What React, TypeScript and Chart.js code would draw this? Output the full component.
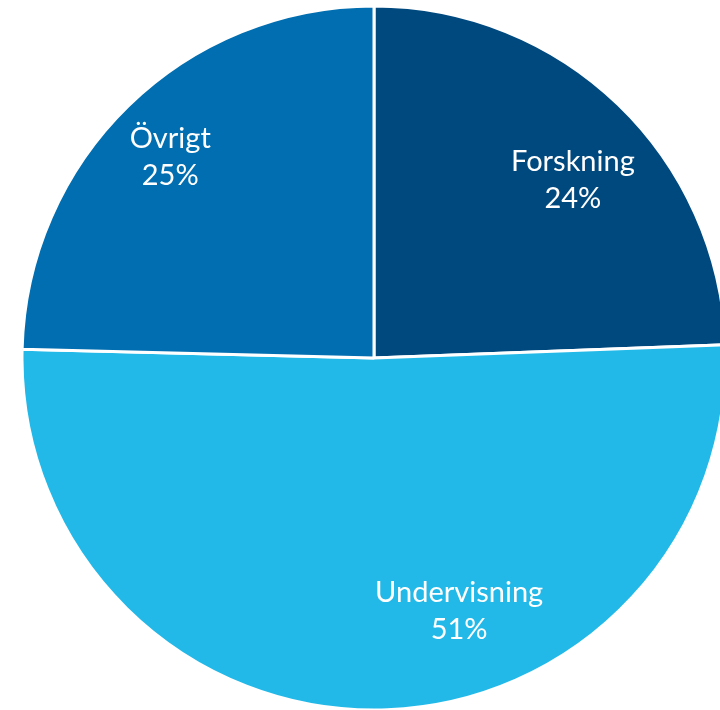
import React, { useEffect, useRef } from "react";
import { Chart, registerables } from "chart.js";

Chart.register(...registerables);

const categories = ["Forskning", "Undervisning", "Övrigt"];
const values = [24.4, 51.0, 24.6];
const percentLabels = ["24%", "51%", "25%"];
const colors = ["#00497f", "#22b9e9", "#006eb0"];

// label placement: angle (deg clockwise from top) and fraction of radius
const labelAngles = [48.2, 161.4, 314.6];
const labelDist = [0.758, 0.758, 0.813];

const labelPlugin = {
  id: "pieLabels",
  afterDatasetsDraw(chart: any) {
    const ctx = chart.ctx;
    const meta = chart.getDatasetMeta(0);
    ctx.save();
    ctx.fillStyle = "#ffffff";
    ctx.font = "29px Lato, 'Open Sans', sans-serif";
    ctx.textAlign = "center";
    ctx.textBaseline = "middle";
    meta.data.forEach((arc: any, i: number) => {
      const a = (labelAngles[i] * Math.PI) / 180;
      const r = arc.outerRadius * labelDist[i];
      const x = arc.x + Math.sin(a) * r;
      const y = arc.y - Math.cos(a) * r;
      ctx.fillText(categories[i], x, y - 18.5);
      ctx.fillText(percentLabels[i], x, y + 18.5);
    });
    ctx.restore();
  },
};

export default function App() {
  const ref = useRef<HTMLCanvasElement>(null);
  useEffect(() => {
    if (!ref.current) return;
    const chart = new Chart(ref.current, {
      type: "pie",
      data: {
        labels: categories,
        datasets: [
          {
            data: values,
            backgroundColor: colors,
            borderColor: "#ffffff",
            borderWidth: 3,
          },
        ],
      },
      options: {
        responsive: false,
        animation: false,
        radius: 352,
        layout: { padding: 0 },
        plugins: {
          legend: { display: false },
          tooltip: { enabled: false },
        },
      },
      plugins: [labelPlugin],
    });
    return () => chart.destroy();
  }, []);
  return (
    <div
      style={{
        position: "fixed",
        left: 0,
        top: 0,
        width: 720,
        height: 710,
        overflow: "hidden",
        background: "#ffffff",
      }}
    >
      <canvas
        ref={ref}
        width={748}
        height={716}
        style={{ position: "absolute", left: 0, top: 0, width: 748, height: 716 }}
      />
    </div>
  );
}
